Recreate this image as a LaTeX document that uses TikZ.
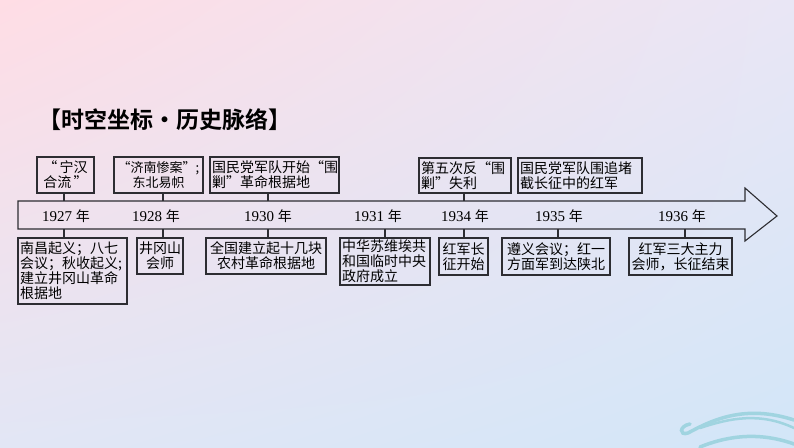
\documentclass[tikz,border=0pt]{standalone}
\usepackage{fontspec}
\usetikzlibrary{shadings}
\setmainfont{Noto Sans CJK SC}
\newfontfamily\titlefont{Noto Sans CJK SC Bold}
\newfontfamily\yearfont{Liberation Serif}
\definecolor{frame}{RGB}{45,45,50}
\definecolor{wave}{RGB}{160,212,224}
\definecolor{bgul}{RGB}{255,221,229}
\definecolor{bgur}{RGB}{233,230,245}
\definecolor{bgll}{RGB}{226,230,245}
\definecolor{bglr}{RGB}{210,230,248}
\tikzset{
  box/.style={draw=frame, line width=1.1pt, inner sep=0pt, minimum height=#1,
    font=\fontsize{14}{15}\selectfont},
  box/.default=36pt,
  yr/.style={font=\yearfont\fontsize{15}{15}\selectfont, inner sep=0pt},
  tick/.style={draw=frame, line width=1.1pt},
}
\begin{document}
\begin{tikzpicture}[x=1pt,y=-1pt]
\shade[upper left=bgul, upper right=bgur, lower left=bgll, lower right=bglr]
  (0,0) rectangle (794,447);
\useasboundingbox (0,0) rectangle (794,447);
% decoration
\begin{scope}[draw=wave, line cap=round]
\draw[line width=3.5pt] (690,424) .. controls (679,426) and (679,436) .. (688,433)
   .. controls (712,420) and (745,404) .. (794,420);
\draw[line width=2.5pt] (700,428) .. controls (730,418) and (760,412) .. (794,428);
\draw[line width=3.5pt] (700,447) .. controls (722,438) and (755,430) .. (794,444);
\end{scope}
% title
\node[anchor=west, inner sep=0pt, font=\titlefont\fontsize{23}{23}\selectfont] (title) at (38,120) {【时空坐标・历史脉络】};
% axis arrow
\draw[draw=frame, line width=1.1pt, line join=miter]
  (18,201) -- (745,201) -- (745,188) -- (777,216) -- (745,241) -- (745,229) -- (18,229) -- cycle;
% year labels
\node[yr] (y27) at (66,216) {1927 {\rmfamily\fontsize{14}{14}\selectfont 年}};
\node[yr] (y28) at (156,216) {1928 {\rmfamily\fontsize{14}{14}\selectfont 年}};
\node[yr] (y30) at (268,216) {1930 {\rmfamily\fontsize{14}{14}\selectfont 年}};
\node[yr] (y31) at (378,216) {1931 {\rmfamily\fontsize{14}{14}\selectfont 年}};
\node[yr] (y34) at (465,216) {1934 {\rmfamily\fontsize{14}{14}\selectfont 年}};
\node[yr] (y35) at (559,216) {1935 {\rmfamily\fontsize{14}{14}\selectfont 年}};
\node[yr] (y36) at (682,216) {1936 {\rmfamily\fontsize{14}{14}\selectfont 年}};
% axis tick coordinates
\coordinate (a1t) at (64,201);  \coordinate (a1b) at (64,229);
\coordinate (a2t) at (163,201); \coordinate (a2b) at (163,229);
\coordinate (a3t) at (268,201); \coordinate (a3b) at (268,229);
\coordinate (a4b) at (385,229);
\coordinate (a5t) at (464,201); \coordinate (a5b) at (464,229);
\coordinate (a6b) at (558,229);
\coordinate (a7b) at (685,229);
% top boxes
\node[box, minimum width=57pt, text width=53pt, align=center] (t1) at (65.5,175) {“\,宁汉\\合流\,”};
\node[box, minimum width=89pt, text width=87pt, align=center, font=\fontsize{13}{15}\selectfont] (t2) at (158.5,175) {“济南惨案”;\\东北易帜};
\node[box, minimum width=129pt, text width=125pt, align=left] (t3) at (274.5,175) {国民党军队开始“围\\剿”革命根据地};
\node[box=35pt, minimum width=92pt, text width=88pt, align=left] (t4) at (465,175.5) {第五次反“围\\剿”失利};
\node[box=35pt, minimum width=124pt, text width=120pt, align=left] (t5) at (580,175.5) {国民党军队围追堵\\截长征中的红军};
% bottom boxes
\node[box=66pt, minimum width=109pt, text width=105pt, align=left] (bA) at (72.5,271) {南昌起义；八七\\会议；秋收起义;\\建立井冈山革命\\根据地};
\node[box, minimum width=46pt, text width=44pt, align=center] (bB) at (160,256) {井冈山\\会师};
\node[box, minimum width=120pt, text width=118pt, align=center] (bC) at (266,256) {全国建立起十几块\\农村革命根据地};
\node[box=47pt, minimum width=90pt, text width=86pt, align=left] (bD) at (385,261.5) {中华苏维埃共\\和国临时中央\\政府成立};
\node[box=37pt, minimum width=49pt, text width=45pt, align=center] (bE) at (463.5,256.5) {红军长\\征开始};
\node[box=37pt, minimum width=108pt, text width=104pt, align=center] (bF) at (556,256.5) {遵义会议；红一\\方面军到达陕北};
\node[box=37pt, minimum width=103pt, text width=101pt, align=center] (bG) at (680.5,256.5) {红军三大主力\\会师，长征结束};
% connectors
\draw[tick] (a1t) -- (a1t |- t1.south);
\draw[tick] (a2t) -- (a2t |- t2.south);
\draw[tick] (a3t) -- (a3t |- t3.south);
\draw[tick] (a5t) -- (a5t |- t4.south);
\draw[tick] (a1b) -- (a1b |- bA.north);
\draw[tick] (a2b) -- (a2b |- bB.north);
\draw[tick] (a3b) -- (a3b |- bC.north);
\draw[tick] (a4b) -- (a4b |- bD.north);
\draw[tick] (a5b) -- (a5b |- bE.north);
\draw[tick] (a6b) -- (a6b |- bF.north);
\draw[tick] (a7b) -- (a7b |- bG.north);
\end{tikzpicture}
\end{document}
